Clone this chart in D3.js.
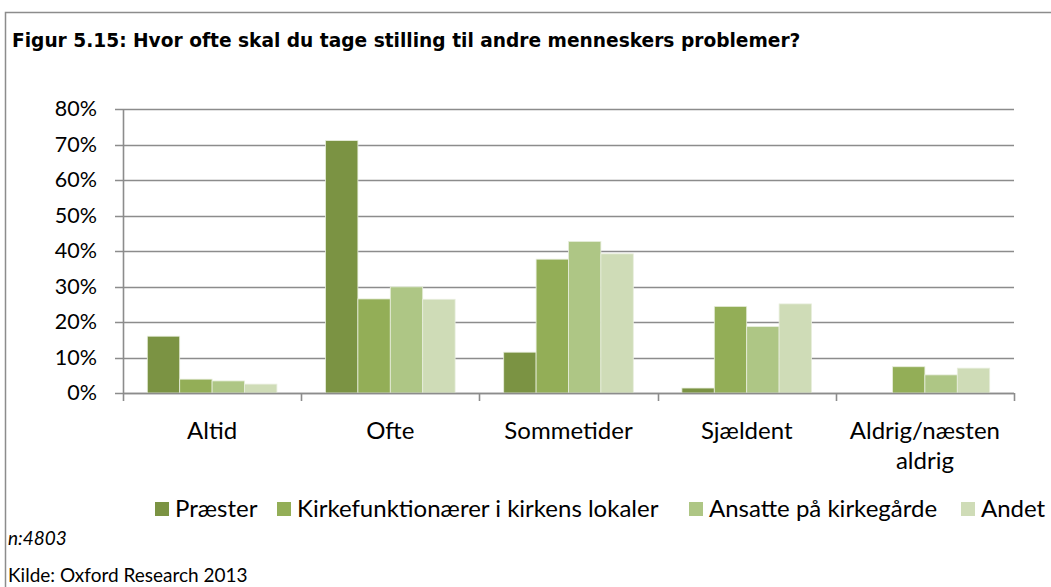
<!DOCTYPE html>
<html>
<head>
<meta charset="utf-8">
<script src="https://cdn.jsdelivr.net/npm/d3@7"></script>
<style>
  body { margin: 0; background: #fff; }
  svg { display: block; }
</style>
</head>
<body>
<svg id="chart" width="1051" height="587"></svg>
<script>
// Answer categories and respondent groups
const categories = ["Altid", "Ofte", "Sommetider", "Sjældent", "Aldrig/næsten aldrig"];
const categoryLines = [["Altid"], ["Ofte"], ["Sommetider"], ["Sjældent"], ["Aldrig/næsten", "aldrig"]];
const seriesNames = ["Præster", "Kirkefunktionærer i kirkens lokaler", "Ansatte på kirkegårde", "Andet"];

// Share of respondents (%) per group, in category order
const praester = [16.0, 71.1, 11.5, 1.4, 0.0];
const kirkefunktionaerer = [3.9, 26.5, 37.7, 24.4, 7.4];
const ansatte = [3.4, 29.9, 42.7, 18.7, 5.1];
const andet = [2.5, 26.4, 39.2, 25.1, 7.0];

const yTicks = [0, 10, 20, 30, 40, 50, 60, 70, 80];
const colors = ["#7b9343", "#93ae57", "#aec685", "#cfdcb7"];

const seriesValues = [praester, kirkefunktionaerer, ansatte, andet];

const svg = d3.select("#chart");
const W = 1051, H = 587;

// Outer frame
svg.append("path")
  .attr("d", `M5.5,${H} V12.5 H${W}`)
  .attr("fill", "none")
  .attr("stroke", "#8c8c8c")
  .attr("stroke-width", 1.5);

svg.append("text")
  .attr("x", 12).attr("y", 47)
  .attr("font-family", "DejaVu Sans")
  .attr("font-weight", "bold")
  .attr("font-size", 18.6)
  .attr("fill", "#000")
  .text("Figur 5.15: Hvor ofte skal du tage stilling til andre menneskers problemer?");

const plot = { left: 123, right: 1014, top: 109, bottom: 393 };

const x0 = d3.scaleBand()
  .domain(categories)
  .range([plot.left, plot.right])
  .paddingInner(0)
  .paddingOuter(0);

const x1 = d3.scaleBand()
  .domain(d3.range(seriesNames.length))
  .range([0, x0.bandwidth()])
  .paddingOuter(0.75)
  .paddingInner(0);

const y = d3.scaleLinear().domain([0, 80]).range([plot.bottom, plot.top]);

// Gridlines
svg.append("g")
  .selectAll("line")
  .data(yTicks)
  .join("line")
  .attr("x1", plot.left - 8)
  .attr("x2", plot.right)
  .attr("y1", d => Math.round(y(d)) + 0.5)
  .attr("y2", d => Math.round(y(d)) + 0.5)
  .attr("stroke", "#8c8c8c")
  .attr("stroke-width", 1.6);

// Bars
const groups = svg.append("g")
  .selectAll("g")
  .data(categories)
  .join("g")
  .attr("transform", d => `translate(${x0(d)},0)`);

groups.selectAll("rect")
  .data((d, i) => seriesValues.map((s, k) => ({ k, v: s[i] })))
  .join("rect")
  .attr("x", d => x1(d.k))
  .attr("width", x1.bandwidth())
  .attr("y", d => y(d.v))
  .attr("height", d => y(0) - y(d.v))
  .attr("fill", d => colors[d.k])
  .attr("stroke", d => d.v > 0 ? "#e8eedd" : "none")
  .attr("stroke-width", 0.8);

// Y axis
const yAxis = d3.axisLeft(y)
  .tickValues(yTicks)
  .tickFormat(d => d + "%")
  .tickSize(0)
  .tickPadding(26);

const yg = svg.append("g")
  .attr("transform", `translate(${plot.left},0)`)
  .call(yAxis);
yg.select(".domain").attr("stroke", "#8c8c8c").attr("stroke-width", 1.6);
yg.selectAll("text")
  .attr("font-family", "Lato")
  .attr("font-size", 21.5)
  .attr("fill", "#000");

// X axis
const xAxis = d3.axisBottom(x0).tickSize(0).tickFormat("");
const xg = svg.append("g")
  .attr("transform", `translate(0,${plot.bottom})`)
  .call(xAxis);
xg.select(".domain").remove();

// Category boundary ticks
const boundaries = categories.map(c => x0(c)).concat([plot.right]);
svg.append("g")
  .selectAll("line")
  .data(boundaries)
  .join("line")
  .attr("x1", d => Math.round(d) + 0.5)
  .attr("x2", d => Math.round(d) + 0.5)
  .attr("y1", plot.bottom)
  .attr("y2", plot.bottom + 8)
  .attr("stroke", "#8c8c8c")
  .attr("stroke-width", 1.6);
svg.append("line")
  .attr("x1", plot.left).attr("x2", plot.right)
  .attr("y1", Math.round(y(0)) + 0.5).attr("y2", Math.round(y(0)) + 0.5)
  .attr("stroke", "#8c8c8c").attr("stroke-width", 1.6);

// Category labels
const catLabels = svg.append("g")
  .selectAll("text")
  .data(categories)
  .join("text")
  .attr("x", d => x0(d) + x0.bandwidth() / 2)
  .attr("y", 439)
  .attr("text-anchor", "middle")
  .attr("font-family", "Lato")
  .attr("font-size", 24)
  .attr("fill", "#000");
catLabels.selectAll("tspan")
  .data((d, i) => categoryLines[i])
  .join("tspan")
  .attr("x", function () { return d3.select(this.parentNode).attr("x"); })
  .attr("dy", (d, j) => j === 0 ? 0 : 30)
  .text(d => d);

// Legend
const legendX = [155, 277, 689, 961];
const legend = svg.append("g")
  .selectAll("g")
  .data(seriesNames)
  .join("g")
  .attr("transform", (d, i) => `translate(${legendX[i]},502)`);
legend.append("rect")
  .attr("width", 14).attr("height", 14)
  .attr("fill", (d, i) => colors[i]);
legend.append("text")
  .attr("x", 20).attr("y", 15)
  .attr("font-family", "Lato")
  .attr("font-size", 24)
  .attr("fill", "#000")
  .text(d => d);

// Notes
svg.append("text")
  .attr("x", 8).attr("y", 545)
  .attr("font-family", "Lato")
  .attr("font-style", "italic")
  .attr("font-size", 19)
  .text("n:4803");
svg.append("text")
  .attr("x", 8).attr("y", 582)
  .attr("font-family", "Lato")
  .attr("font-size", 19)
  .text("Kilde: Oxford Research 2013");
</script>
</body>
</html>
